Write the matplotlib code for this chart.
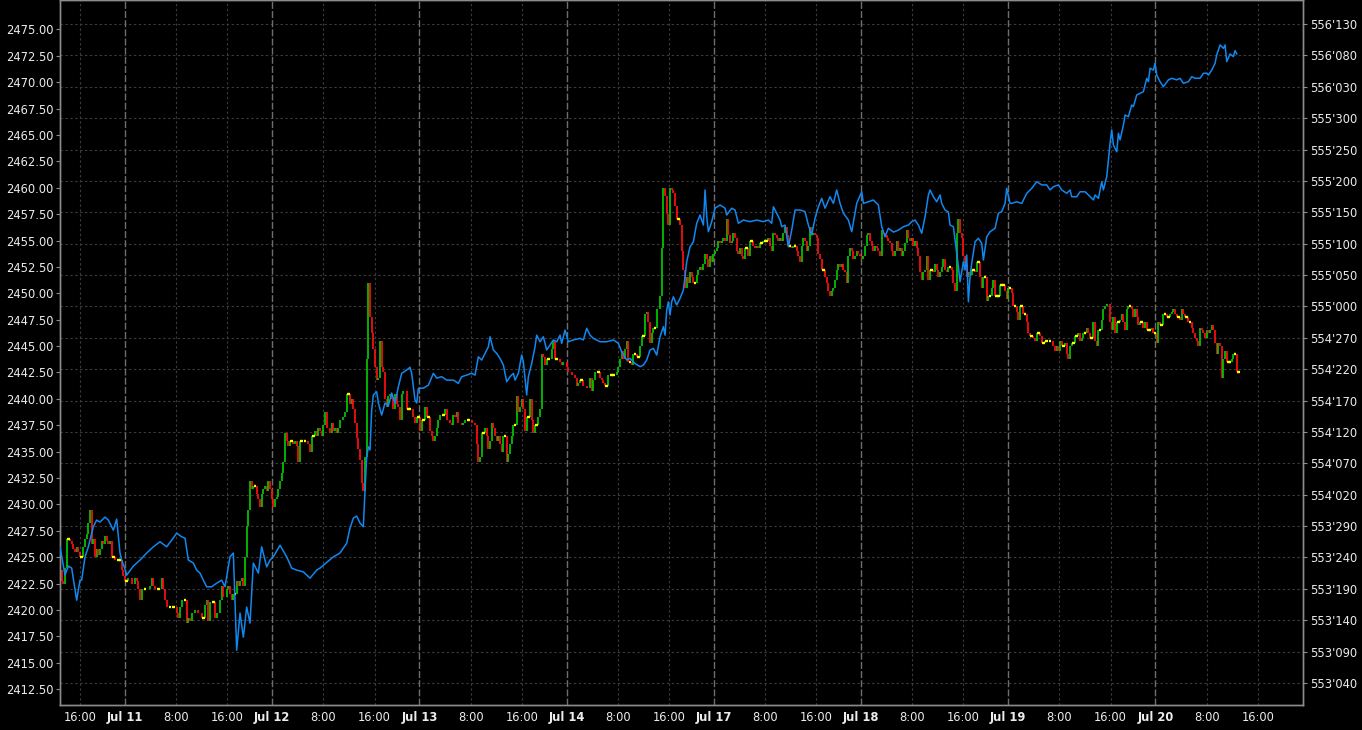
import numpy as np
import matplotlib
matplotlib.use("Agg")
import matplotlib.pyplot as plt
from matplotlib.collections import LineCollection
from matplotlib.transforms import blended_transform_factory

# bar clock: one bar is ~15.6 trading minutes, bar 0 sits 13.28 trading hours before Jul 11 00:00
BAR_H = 0.26042
BAR0_T = -13.281
FIRST_BAR = 12

# x ticks in trading hours (23 h per session, Jul 11 00:00 = 0)
tick_t = [-7, 0, 8, 16, 23, 31, 39, 46, 54, 62, 69, 77, 85, 92, 100, 108, 115,
          123, 131, 138, 146, 154, 161, 169, 177]
tick_lbl = ["16:00", "Jul 11", "8:00", "16:00", "Jul 12", "8:00", "16:00", "Jul 13",
            "8:00", "16:00", "Jul 14", "8:00", "16:00", "Jul 17", "8:00", "16:00",
            "Jul 18", "8:00", "16:00", "Jul 19", "8:00", "16:00", "Jul 20", "8:00", "16:00"]

# bar closes (left axis), starting at FIRST_BAR, None = not read
price_close = [
    2423.75, 2422.75, 2422.5, 2424.0, 2426.75, 2426.75, 2426.5, 2426.25,
    2425.75, 2425.5, 2426.0, 2425.5, 2425.0, 2425.0, 2426.0, 2426.75, 2427.25, 2428.25,
    2429.5, 2426.25, 2426.75, 2425.0, 2425.75, 2425.25, 2425.75, 2426.5, 2426.25, 2427.0,
    2426.5, 2426.25, 2426.5, 2425.0, 2425.0, 2424.75, None, 2424.75, 2424.75, 2423.75,
    2423.25, 2422.75, 2422.75, 2423.0, None, 2422.5, None, 2423.0, 2422.75, 2422.0,
    2421.0, 2422.0, None, 2422.0, None, None, 2422.25, 2423.0, 2422.25, 2422.0,
    None, 2422.0, None, 2423.0, 2422.0, 2421.0, 2420.25, None, 2420.25, None,
    2420.25, None, 2419.75, 2419.25, 2420.25, 2421.0, None, 2421.0, 2418.75, 2419.25,
    2419.0, 2419.75, None, 2420.0, None, 2419.75, None, 2419.25, 2419.25, 2420.5,
    2421.0, 2419.0, 2420.75, None, 2420.75, 2419.25, 2419.75, None, 2421.0, 2422.25,
    2421.25, None, 2422.0, 2422.25, 2421.5, 2421.0, 2421.5, 2421.5, 2422.75, 2422.25,
    2422.75, 2423.0, 2422.25, 2425.0, 2428.0, 2429.5, 2432.25, 2431.5, 2431.75, 2431.75,
    2431.0, 2430.5, 2429.75, 2431.0, 2431.5, 2431.75, 2431.25, 2432.25, 2431.5, 2430.5,
    2429.75, 2430.5, 2430.75, 2431.5, 2432.25, 2433.0, 2434.0, 2436.75, 2436.0, 2435.5,
    2436.0, 2436.0, 2435.75, 2436.0, 2435.5, 2434.0, 2436.0, 2436.0, None, 2436.0,
    None, 2435.75, 2435.0, 2436.5, 2436.5, 2437.0, 2436.5, 2437.25, 2437.0, 2436.5,
    2437.5, 2438.75, 2437.25, None, 2436.75, 2437.75, 2437.0, 2437.25, 2436.75, 2437.25,
    2438.0, None, 2438.25, 2438.75, 2440.5, 2440.5, 2439.5, 2440.0, 2439.0, 2437.75,
    2436.25, 2435.25, 2434.25, 2432.0, 2431.25, 2434.5, 2443.75, 2451.0, 2447.75, 2446.25,
    2444.75, 2443.0, 2441.75, 2442.0, 2445.5, 2443.0, 2442.5, 2440.0, 2439.25, 2440.25,
    2440.5, 2440.0, 2439.0, 2440.5, 2439.5, 2439.25, 2438.0, 2440.5, 2440.75, None,
    2439.0, 2439.0, 2439.0, None, 2438.25, 2437.75, 2438.25, 2438.25, 2437.0, 2438.0,
    2438.0, 2439.25, 2438.25, 2438.25, 2437.0, 2436.5, 2436.0, 2436.5, 2437.25, 2438.0,
    2438.5, None, 2438.5, 2439.0, 2438.0, None, 2437.75, 2437.5, 2438.5, 2438.25,
    2438.75, 2437.75, None, 2437.5, 2437.75, 2438.0, None, 2438.0, None, 2437.75,
    None, 2437.5, 2435.75, 2434.0, 2434.5, 2436.75, 2436.75, 2437.25, 2436.5, 2435.25,
    2436.0, 2437.75, 2437.25, 2436.5, 2436.0, 2436.5, 2435.75, 2435.0, 2436.5, 2436.5,
    2434.0, 2434.75, 2435.75, 2436.5, 2437.5, 2437.5, 2440.25, 2438.75, 2439.25, 2440.0,
    2439.0, 2437.0, 2438.25, 2438.25, 2440.0, 2438.0, 2436.75, 2437.5, 2437.5, 2438.25,
    2439.0, 2444.25, 2444.0, 2443.25, 2443.75, 2443.75, None, 2444.75, 2445.5, 2443.75,
    2443.75, None, 2443.5, 2443.25, 2443.5, None, 2443.0, 2442.5, None, 2442.25,
    None, 2442.0, 2441.25, 2441.5, 2441.75, 2441.75, 2441.25, None, 2441.0, None,
    2442.0, 2440.75, 2441.75, 2442.5, None, 2442.5, 2442.0, 2441.75, 2441.5, 2441.25,
    2441.25, 2442.25, None, 2442.25, 2442.25, None, 2442.5, 2443.0, 2443.75, 2444.5,
    2443.75, 2444.75, 2445.5, 2443.5, 2443.5, 2443.25, 2444.25, 2444.25, 2444.0, 2444.0,
    2445.0, 2446.0, 2446.0, 2448.0, 2448.25, 2447.25, 2445.25, 2446.25, 2446.75, 2446.75,
    2448.5, None, 2449.75, 2454.25, 2460.0, 2459.25, 2457.5, 2456.5, 2460.0, 2459.75,
    2459.5, 2458.25, 2457.0, 2457.0, 2456.5, 2454.0, 2452.25, 2450.5, 2451.5, 2451.0,
    2452.0, 2451.5, 2451.0, 2451.0, 2451.75, 2452.25, 2452.5, 2452.25, 2452.75, 2453.75,
    2453.25, 2452.5, 2453.5, 2453.0, 2453.75, 2454.0, 2454.25, 2455.0, 2454.75, 2455.0,
    2455.25, 2455.0, 2457.0, 2455.5, 2454.75, 2455.0, 2455.75, 2455.25, 2454.0, 2453.75,
    2454.25, 2453.5, 2453.25, 2454.25, 2454.25, 2453.5, 2455.0, 2455.0, 2454.5, 2454.25,
    2454.5, 2454.25, 2454.75, 2454.75, 2455.0, 2455.0, 2455.0, 2455.25, 2454.5, 2454.0,
    2455.75, 2455.5, 2455.25, 2455.0, 2455.25, 2455.0, 2455.75, 2456.25, 2455.5, 2454.5,
    2454.5, 2454.25, 2454.5, 2454.5, 2454.0, 2453.5, 2453.0, 2454.5, 2455.25, 2455.0,
    2454.0, 2454.5, 2456.25, 2455.5, 2455.75, 2455.5, 2455.25, 2453.75, 2453.25, 2452.25,
    2452.25, 2451.5, 2451.0, 2450.25, 2449.75, 2450.25, 2450.5, 2451.25, 2452.25, 2452.75,
    2452.5, 2452.75, 2452.25, 2452.0, 2451.0, 2453.5, 2454.25, 2454.0, 2453.25, 2453.5,
    2454.0, 2453.75, 2453.5, 2453.25, 2453.5, 2454.5, 2455.5, 2455.75, 2455.0, 2454.5,
    2454.0, 2454.5, 2454.25, 2454.0, 2453.5, 2456.0, 2455.75, 2455.5, 2455.25, 2455.0,
    2454.75, 2454.0, 2453.5, 2454.0, 2455.0, 2454.0, 2454.25, 2453.5, 2454.0, 2454.75,
    2456.0, 2455.25, 2455.0, 2455.25, 2454.5, 2455.0, 2454.25, 2453.5, 2452.0, 2451.25,
    2452.0, 2452.25, 2453.5, 2451.25, 2452.25, 2452.25, 2452.0, 2452.75, 2452.25, 2451.5,
    2452.0, 2452.5, 2453.25, 2452.25, 2452.0, 2452.5, 2452.5, 2452.25, 2451.0, 2450.25,
    2455.75, 2457.0, 2455.75, 2455.25, 2453.5, 2452.75, 2451.5, 2452.0, 2451.75, 2452.25,
    2452.25, 2452.0, 2453.0, 2453.0, 2451.5, 2450.5, 2451.5, 2451.5, 2449.25, 2449.75,
    2449.75, 2450.5, 2451.25, 2449.75, 2449.75, 2449.75, 2450.75, 2450.75, 2450.75, 2450.25,
    2449.5, 2450.5, 2450.5, 2450.0, 2448.75, 2448.75, 2448.25, 2447.5, 2448.75, 2448.75,
    2448.0, 2448.0, 2447.25, 2446.25, 2446.0, 2446.0, 2445.75, 2445.5, 2446.25, 2446.25,
    2446.0, 2445.25, 2445.25, 2445.5, 2445.5, None, 2445.5, None, 2445.0, 2444.5,
    2445.0, 2444.5, 2445.5, 2445.0, 2445.0, 2445.25, 2444.25, 2443.75, 2445.0, 2445.25,
    2445.25, 2446.0, 2446.0, 2446.25, 2445.5, 2445.75, 2446.25, 2446.25, 2446.75, 2446.25,
    2445.75, 2445.75, 2447.25, 2445.5, 2445.0, 2446.5, 2446.5, 2447.5, 2448.5, 2448.75,
    2449.0, None, 2447.25, 2446.5, 2447.75, 2446.25, 2447.25, 2447.25, 2447.5, 2448.0,
    2447.25, 2446.5, 2448.5, 2448.75, 2448.75, 2448.5, 2447.75, 2448.5, 2447.75, 2447.0,
    2447.25, 2447.25, 2446.75, 2447.25, 2446.5, 2446.5, 2446.5, 2446.75, 2446.25, 2446.25,
    2445.25, 2447.25, 2447.0, 2447.0, 2448.0, 2448.0, 2447.75, 2447.75, 2448.0, 2448.25,
    2448.5, 2448.0, 2447.75, 2447.75, 2447.5, 2448.5, 2448.0, 2447.75, 2447.75, 2447.25,
    2447.25, 2446.75, 2446.25, 2445.75, 2445.5, 2445.0, 2446.75, 2446.5, 2446.25, 2445.75,
    2446.5, 2446.25, 2446.5, 2447.0, 2446.5, 2445.25, 2444.25, 2445.25, 2445.0, 2442.0,
    2443.75, 2444.5, 2443.5, 2443.5, 2443.5, 2443.75, 2444.25, 2444.25, 2442.5, 2442.5,
]

# second instrument (right axis, decimal price), sampled at these bars
blue_bar = [
    12, 15, 17, 19, 22, 24, 25, 27, 29, 30, 32, 34, 36, 39, 41, 43, 44, 46, 48, 49,
    51, 52, 56, 60, 64, 68, 72, 76, 79, 82, 85, 87, 89, 92, 94, 96, 98, 100, 103, 106,
    109, 111, 114, 116, 118, 120, 122, 124, 126, 128, 131, 133, 136, 138, 140, 144, 148, 151, 154, 158,
    162, 166, 168, 176, 180, 184, 186, 188, 190, 192, 194, 195, 196, 197, 198, 199, 200, 202, 203, 205,
    207, 209, 211, 213, 215, 217, 220, 222, 223, 225, 226, 227, 230, 233, 236, 238, 241, 244, 248, 251,
    253, 256, 259, 261, 263, 265, 267, 269, 270, 272, 274, 276, 278, 280, 282, 284, 285, 287, 289, 290,
    292, 293, 295, 297, 298, 300, 302, 304, 306, 308, 310, 312, 313, 315, 317, 320, 324, 326, 328, 330,
    332, 336, 340, 344, 347, 349, 352, 354, 357, 360, 362, 364, 366, 368, 370, 372, 374, 375, 376, 377,
    378, 379, 380, 382, 384, 386, 387, 388, 390, 392, 394, 396, 398, 399, 400, 401, 403, 405, 408, 411,
    412, 415, 417, 419, 422, 426, 430, 434, 437, 439, 440, 442, 444, 445, 447, 449, 451, 453, 456, 459,
    461, 463, 465, 467, 469, 471, 474, 476, 478, 480, 482, 485, 487, 490, 493, 494, 497, 500, 503, 505,
    507, 509, 512, 515, 518, 521, 523, 525, 527, 529, 531, 533, 534, 536, 538, 540, 541, 543, 545, 546,
    548, 550, 551, 552, 554, 555, 556, 557, 558, 559, 561, 563, 565, 566, 568, 570, 573, 575, 577, 579,
    580, 582, 583, 586, 589, 592, 595, 598, 601, 604, 606, 608, 611, 613, 616, 618, 619, 622, 624, 627,
    629, 632, 633, 635, 637, 638, 640, 642, 643, 644, 646, 647, 648, 650, 651, 653, 655, 656, 658, 660,
    662, 664, 665, 666, 668, 669, 670, 672, 674, 677, 679, 682, 684, 686, 689, 691, 693, 696, 698, 700,
    701, 703, 705, 706, 708, 710, 711, 712, 714, 716, 717, 718,
]
blue_px = [
    553.803, 553.662, 553.707, 553.697, 553.537, 553.637, 553.637, 553.752, 553.803, 553.836,
    553.903, 553.936, 553.926, 553.951, 553.936, 553.903, 553.886, 553.941, 553.772, 553.737,
    553.692, 553.662, 553.707, 553.737, 553.772, 553.803, 553.828, 553.803, 553.836, 553.871,
    553.853, 553.846, 553.737, 553.722, 553.687, 553.672, 553.637, 553.604, 553.604, 553.622,
    553.637, 553.604, 553.753, 553.772, 553.288, 553.473, 553.353, 553.503, 553.423, 553.722,
    553.672, 553.803, 553.703, 553.737, 553.753, 553.811, 553.753, 553.697, 553.687, 553.678,
    553.647, 553.687, 553.697, 553.753, 553.772, 553.821, 553.896, 553.946, 553.956, 553.921,
    553.903, 554.085, 554.251, 554.301, 554.285, 554.484, 554.559, 554.575, 554.519, 554.459,
    554.519, 554.504, 554.569, 554.519, 554.600, 554.667, 554.683, 554.697, 554.667, 554.534,
    554.519, 554.592, 554.593, 554.608, 554.667, 554.643, 554.650, 554.633, 554.633, 554.617,
    554.650, 554.658, 554.667, 554.658, 554.749, 554.733, 554.766, 554.799, 554.849, 554.783,
    554.766, 554.741, 554.708, 554.625, 554.650, 554.667, 554.633, 554.667, 554.758, 554.724,
    554.559, 554.650, 554.716, 554.799, 554.857, 554.824, 554.849, 554.783, 554.808, 554.833,
    554.824, 554.857, 554.816, 554.882, 554.824, 554.833, 554.841, 554.833, 554.891, 554.857,
    554.841, 554.824, 554.824, 554.833, 554.816, 554.774, 554.733, 554.741, 554.716, 554.700,
    554.708, 554.733, 554.783, 554.791, 554.758, 554.849, 554.899, 554.857, 554.982, 555.023,
    554.957, 555.023, 555.048, 555.007, 555.040, 555.082, 555.148, 555.223, 555.297, 555.322,
    555.414, 555.455, 555.405, 555.580, 555.447, 555.372, 555.422, 555.489, 555.505, 555.489,
    555.455, 555.489, 555.480, 555.414, 555.430, 555.422, 555.430, 555.422, 555.430, 555.414,
    555.496, 555.464, 555.430, 555.397, 555.405, 555.297, 555.380, 555.480, 555.480, 555.472,
    555.405, 555.356, 555.439, 555.496, 555.538, 555.489, 555.546, 555.513, 555.580, 555.513,
    555.464, 555.430, 555.372, 555.513, 555.571, 555.513, 555.521, 555.530, 555.505, 555.397,
    555.347, 555.389, 555.370, 555.380, 555.397, 555.405, 555.422, 555.430, 555.405, 555.364,
    555.447, 555.555, 555.580, 555.546, 555.521, 555.555, 555.513, 555.480, 555.470, 555.405,
    555.397, 555.264, 555.198, 555.123, 555.223, 555.181, 555.256, 555.023, 555.148, 555.215,
    555.322, 555.339, 555.314, 555.231, 555.347, 555.372, 555.389, 555.464, 555.472, 555.513,
    555.588, 555.513, 555.513, 555.521, 555.513, 555.563, 555.588, 555.621, 555.605, 555.605,
    555.580, 555.596, 555.605, 555.580, 555.563, 555.580, 555.546, 555.546, 555.571, 555.571,
    555.555, 555.530, 555.555, 555.538, 555.621, 555.580, 555.646, 555.812, 555.879, 555.804,
    555.770, 555.862, 555.829, 555.903, 555.953, 555.945, 556.003, 555.995, 556.053, 556.061,
    556.069, 556.136, 556.119, 556.186, 556.177, 556.211, 556.152, 556.119, 556.094, 556.128,
    556.136, 556.128, 556.136, 556.111, 556.119, 556.144, 556.136, 556.136, 556.161, 556.161,
    556.152, 556.177, 556.211, 556.252, 556.302, 556.285, 556.302, 556.219, 556.257, 556.244,
    556.274, 556.257,
]

BG = "#000000"
UP = "#00c800"
DOWN = "#ff1010"
FLAT = "#ffff00"
LINE = "#1188f0"
SPINE = "#8c8c8c"
TXT = "#ececec"


def fmt32(v):
    whole = int(np.floor(v + 1e-9))
    tenths = int(round((v - whole) * 320))
    return f"{whole}'{tenths:03d}"


fig = plt.figure(figsize=(13.62, 7.30), dpi=100, facecolor=BG)
ax = fig.add_axes([0.04427, 0.03425, 0.91263, 0.96507])
ax.set_facecolor(BG)
ax2 = ax.twinx()

ax.set_xlim(-10.11, 184.1)
ax.set_ylim(2411.01, 2477.73)
ax2.set_ylim(553.0153, 556.5233)

# grid: horizontal lines follow the right scale, vertical at the time ticks
right_ticks = [553.125 + i * 5 / 32 for i in range(22)]
htrans = blended_transform_factory(ax.transAxes, ax2.transData)
for v in right_ticks:
    ax.plot([0, 1], [v, v], transform=htrans, color="#3a3a3a", lw=0.8,
            ls=(0, (2.2, 2.2)), zorder=0.5)
for tv, lab in zip(tick_t, tick_lbl):
    if lab.startswith("Jul"):
        ax.axvline(tv, color="#6e6e6e", lw=1.0, ls=(0, (5, 1.6)), zorder=0.6)
    else:
        ax.axvline(tv, color="#3a3a3a", lw=0.8, ls=(0, (2.2, 2.2)), zorder=0.5)

# close-to-close bars
close = np.array([np.nan if v is None else v for v in price_close], dtype=float)
bars = np.arange(len(close)) + FIRST_BAR
t = BAR0_T + bars * BAR_H
ok = ~np.isnan(close)
t, close = t[ok], close[ok]
prev, cur, tt = close[:-1], close[1:], t[1:]
moved = cur != prev
segs = [[(x, a), (x, b)] for x, a, b, m in zip(tt, prev, cur, moved) if m]
cols = [UP if b > a else DOWN for a, b, m in zip(prev, cur, moved) if m]
ax.add_collection(LineCollection(segs, colors=cols, linewidths=1.25,
                                 capstyle="butt", zorder=2))
flat = ~moved
ax.hlines(cur[flat], tt[flat] - 0.2, tt[flat] + 0.2, colors=FLAT, lw=1.7, zorder=3)

# second instrument
bt = BAR0_T + np.array(blue_bar) * BAR_H
ax2.plot(bt, blue_px, color=LINE, lw=1.1, zorder=4)

# axes cosmetics
ax.set_yticks(np.arange(2412.5, 2475.01, 2.5))
ax.set_yticklabels([f"{v:.2f}" for v in np.arange(2412.5, 2475.01, 2.5)])
ax2.set_yticks(right_ticks)
ax2.set_yticklabels([fmt32(v) for v in right_ticks])
ax.set_xticks(tick_t)
ax.set_xticklabels(tick_lbl)
for lbl in ax.get_xticklabels():
    if lbl.get_text().startswith("Jul"):
        lbl.set_fontweight("bold")
        lbl.set_color("#ffffff")

ax.tick_params(axis="y", colors=SPINE, labelcolor=TXT, labelsize=8.3, length=3, pad=2)
ax.tick_params(axis="x", length=0, labelcolor=TXT, labelsize=8.3, pad=4)
ax2.tick_params(axis="y", colors=SPINE, labelcolor=TXT, labelsize=8.3, length=3, pad=2)
for a in (ax, ax2):
    for s in a.spines.values():
        s.set_color(SPINE)
        s.set_linewidth(1.0)

fig.savefig("out.png", dpi=100, facecolor=BG)
